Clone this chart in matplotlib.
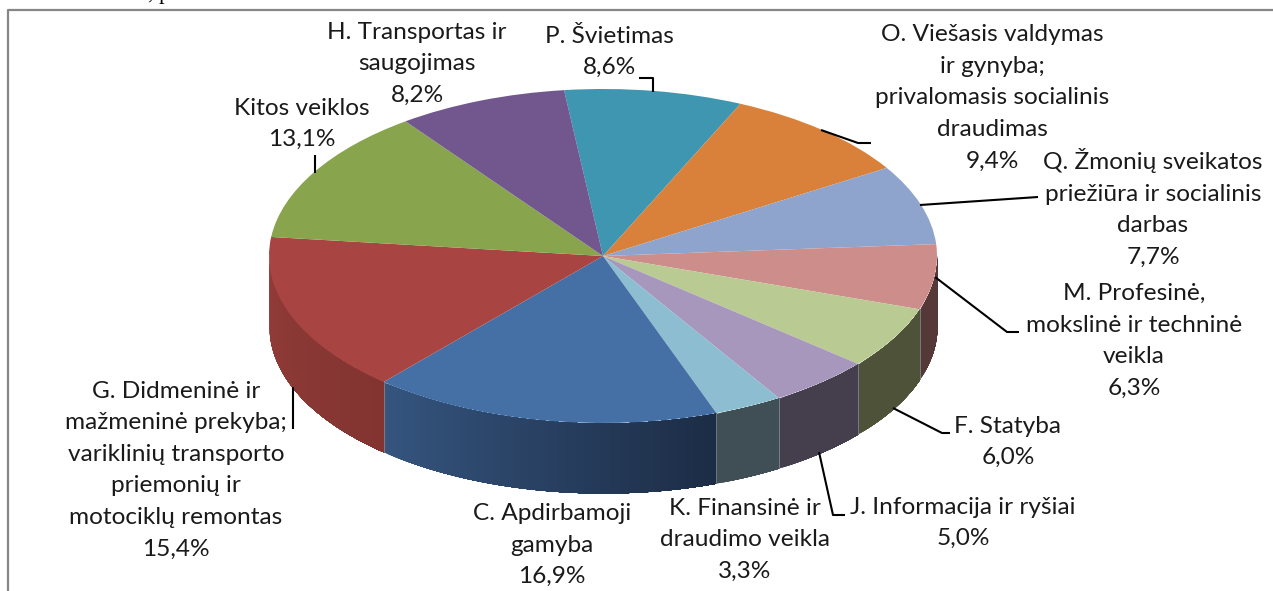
import numpy as np
import matplotlib
matplotlib.use('Agg')
import matplotlib.pyplot as plt

plt.rcParams['font.family'] = ['Lato', 'DejaVu Sans']

# sectors, clockwise starting from P
sectors = ['P. Švietimas', 'O. Viešasis valdymas\nir gynyba;\nprivalomasis socialinis\ndraudimas',
           'Q. Žmonių sveikatos\npriežiūra ir socialinis\ndarbas', 'M. Profesinė,\nmokslinė ir techninė\nveikla',
           'F. Statyba', 'J. Informacija ir ryšiai', 'K. Finansinė ir\ndraudimo veikla',
           'C. Apdirbamoji\ngamyba',
           'G. Didmeninė ir\nmažmeninė prekyba;\nvariklinių transporto\npriemonių ir\nmotociklų remontas',
           'Kitos veiklos', 'H. Transportas ir\nsaugojimas']
shares = [8.6, 9.4, 7.7, 6.3, 6.0, 5.0, 3.3, 16.9, 15.4, 13.1, 8.2]

top_colors = ['#3f96b0', '#d9813a', '#8fa4cc', '#cc8d8b', '#b9cb92', '#a897bd', '#8cbdd0',
              '#4570a6', '#a84442', '#88a44c', '#71578e']
side_left = ['#2b6678', '#94582a', '#616f8a', '#553838', '#4d5238', '#443e4d', '#3f4f55',
             '#35557f', '#923c38', '#5e7035', '#4d3b61']
side_right = ['#2b6678', '#94582a', '#616f8a', '#553838', '#4d5238', '#443e4d', '#3f4f55',
              '#1c2c45', '#823431', '#5e7035', '#4d3b61']

W, H = 1273, 591
cx, cy, rx, ry, depth = 603, 256, 334, 167, 70
start = 96.7

fig = plt.figure(figsize=(W / 100, H / 100), dpi=100)

# pie axes: unit circle is stretched to the ellipse of the tilted pie
ax = fig.add_axes([0, 0, 1, 1])
wedges, _ = ax.pie(shares, colors=top_colors, startangle=start, counterclock=False,
                   normalize=True, wedgeprops={'linewidth': 0, 'zorder': 5})
ax.set_aspect('auto')
ax.set_xlim(-cx / rx, (W - cx) / rx)
ax.set_ylim((cy - H) / ry, cy / ry)
ax.axis('off')

# side wall, only the part at the front is seen
d = depth / ry
for w, c1, c2 in zip(wedges, side_left, side_right):
    t1, t2 = sorted([w.theta1, w.theta2])
    for shift in (0, 360, -360):
        lo = max(t1 + shift, 180)
        hi = min(t2 + shift, 360)
        if hi <= lo:
            continue
        a = np.linspace(lo, hi, int(hi - lo) * 2 + 2)
        rgb1 = np.array(matplotlib.colors.to_rgb(c1))
        rgb2 = np.array(matplotlib.colors.to_rgb(c2))
        # each strip runs on to the slice end and is painted over by the next, so no seams show
        for i in range(len(a) - 1):
            f = i / max(len(a) - 2, 1)
            xs = np.cos(np.radians(a[i:]))
            ys = np.sin(np.radians(a[i:]))
            ax.fill_between(xs, ys, ys - d, color=rgb1 + (rgb2 - rgb1) * f, linewidth=0, zorder=2)
        # pale seam between slices
        if lo > 180:
            xs = np.cos(np.radians(lo))
            ys = np.sin(np.radians(lo))
            ax.plot([xs, xs], [ys, ys - d], color='#8a9499', lw=0.5, zorder=3)

# text and leader lines in picture pixels
tx = fig.add_axes([0, 0, 1, 1])
tx.set_xlim(0, W)
tx.set_ylim(H, 0)
tx.axis('off')
tx.patch.set_alpha(0)

# chart frame
tx.plot([7.5, 7.5, W + 2], [H + 2, 10, 10], color='#868686', lw=1.6, clip_on=False)

# bit of the page text above the chart
tx.text(148, -1, ', p', family='Liberation Serif', fontsize=16, ha='left', va='baseline', color='black')

label_x = [609, 992, 1153, 1134, 1008, 963, 745, 552, 176, 302, 417]
label_y = [52, 98, 208, 341, 442, 523, 540, 545, 470, 124, 64]
for name, val, x, y in zip(sectors, shares, label_x, label_y):
    s = name + '\n' + ('%.1f%%' % val).replace('.', ',')
    tx.text(x, y, s, ha='center', va='center', fontsize=17.6, linespacing=1.62, color='#1a1a1a')

leaders = [[(653, 92), (653, 78), (639, 78)],
           [(821, 130), (858, 143), (871, 143)],
           [(920, 205), (1038, 197)],
           [(935, 277), (1007, 332), (1019, 332)],
           [(893, 408), (942, 433), (950, 433)],
           [(819, 452), (833, 515), (845, 515)],
           [(293, 387), (293, 429)],
           [(315, 155), (315, 173)]]
for path in leaders:
    xs, ys = zip(*path)
    tx.plot(xs, ys, color='black', lw=1.5, solid_capstyle='butt')

fig.savefig('out.png', dpi=100)
